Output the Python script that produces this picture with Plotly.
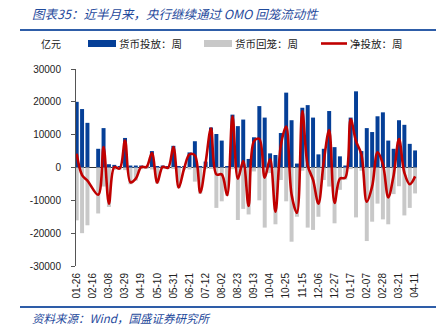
import plotly.graph_objects as go
import pandas as pd

# ---- data (亿元, weekly) ----
weeks = list(pd.date_range("2020-01-26", periods=64, freq="7D").strftime("%m-%d"))

injection = [20000, 17800, 13600, None, 5700, 12000, 1000, 800, 300, 9000,
             600, 600, 600, 400, 5000, 300, 600, 300, 6600, 200,
             300, 4600, 8000, 400, 1800, 12200, 10200, 8200, 200, 16100,
             12600, 14600, 2600, 9200, 18700, 15200, 4300, 3800, 10500, 22800,
             14400, 1200, 18200, 19000, 15200, 4000, 5700, 17200, 6200, 3400,
             600, 15200, 23200, 5000, 12000, 10800, 15600, 16800, 8200, 5700,
             14400, 13000, 7200, 5200]

withdrawal = [-16100, -20000, -17600, None, -14000, -5800, -12000, -700, -600, -800,
              -5100, -4000, -500, -200, -600, -4900, -400, -400, -400, -6300,
              -600, -600, -4300, -8000, -300, -300, -12300, -10300, -8600, -500,
              -16000, -12600, -14300, -1200, -10000, -18300, -1700, -17300, -3800, -10300,
              -22600, -15000, -1000, -18300, -19000, -15000, -3800, -5800, -17000, -6800,
              -3700, -500, -15200, -1000, -22400, -16500, -11000, -15800, -17300, -8100,
              -5700, -14600, -12300, -7900]

net = [4200, -2300, -4000, None, -8300, 6200, -11000, 100, -300, 8200,
       -4500, -3400, 100, 200, 4400, -4600, 200, -100, 6200, -6100,
       -300, 4000, 3700, -7600, 1500, 11900, -2100, -2100, -8400, 15600,
       -3400, 2000, -11700, 8000, 8700, -3100, 2600, -13500, 6700, 12500,
       -8200, -13800, 17200, 700, -3800, -11000, 1900, 11400, -10800, -3400,
       -3100, 14700, 8000, 4000, -10400, -5700, 4600, 1000, -9100, -2400,
       8700, -1600, -5100, -2700]

y_ticks = [-30000, -20000, -10000, 0, 10000, 20000, 30000]

title_text = "图表35：近半月来，央行继续通过 OMO 回笼流动性"
source_text = "资料来源：Wind，国盛证券研究所"
unit_text = "亿元"
legend_names = ["货币投放：周", "货币回笼：周", "净投放：周"]

BLUE = "#053F97"
GRAY = "#C8C8C8"
RED = "#C00000"
TBLUE = "#1F4A9C"

W, H = 448, 329
L, R, T, B = 76, 31, 69, 63
PW, PH = W - L - R, H - T - B


def px(x):
    return (x - L) / PW


def py(y):
    return (H - B - y) / PH


xs = list(range(len(weeks)))
fig = go.Figure()
fig.add_trace(go.Bar(x=xs, y=injection, marker_color=BLUE, width=0.74,
                     marker_line_width=0, name=legend_names[0], showlegend=False))
fig.add_trace(go.Bar(x=xs, y=withdrawal, marker_color=GRAY, width=0.74,
                     marker_line_width=0, name=legend_names[1], showlegend=False))
fig.add_trace(go.Scatter(x=xs, y=net, mode="lines", connectgaps=True,
                         line=dict(color=RED, width=2.6, shape="spline", smoothing=1.0),
                         name=legend_names[2], showlegend=False))

tick_idx = xs[::3]
fig.update_xaxes(range=[-0.13, 63.35], tickvals=tick_idx,
                 ticktext=[weeks[i] for i in tick_idx], tickangle=-90,
                 tickfont=dict(family="Liberation Sans, Arial", size=10, color="#222"),
                 showgrid=False, showline=False, zeroline=False, ticks="",
                 ticklabelstandoff=4)
fig.update_yaxes(range=[-30000, 30000], tickvals=y_ticks,
                 ticktext=[str(v) for v in y_ticks],
                 tickfont=dict(family="Liberation Sans, Arial", size=10, color="#222"),
                 showgrid=False, showline=True, linecolor="#555", linewidth=1,
                 ticks="outside", ticklen=4, tickcolor="#555",
                 zeroline=True, zerolinecolor="#333", zerolinewidth=1,
                 ticklabelstandoff=8)

shapes = [
    dict(type="line", xref="paper", yref="paper", x0=px(20), x1=px(436),
         y0=py(30), y1=py(30), line=dict(color="#2E5DA8", width=2)),
    dict(type="line", xref="paper", yref="paper", x0=px(20), x1=px(436),
         y0=py(307), y1=py(307), line=dict(color="#2E5DA8", width=2)),
    dict(type="rect", xref="paper", yref="paper", x0=px(88), x1=px(116),
         y0=py(47), y1=py(40), fillcolor=BLUE, line=dict(width=0)),
    dict(type="rect", xref="paper", yref="paper", x0=px(204), x1=px(232),
         y0=py(47), y1=py(40), fillcolor=GRAY, line=dict(width=0)),
    dict(type="line", xref="paper", yref="paper", x0=px(321), x1=px(347),
         y0=py(43.5), y1=py(43.5), line=dict(color=RED, width=2.6)),
]

cjk = "Noto Sans CJK SC"
annotations = [
    dict(text="<i>" + title_text + "</i>", x=px(30), y=py(14), xanchor="left",
         yanchor="middle", font=dict(family=cjk, size=12.5, color=TBLUE)),
    dict(text="<i>" + source_text + "</i>", x=px(30), y=py(318), xanchor="left",
         yanchor="middle", font=dict(family=cjk, size=11.5, color=TBLUE)),
    dict(text=unit_text, x=px(39), y=py(43.5), xanchor="left", yanchor="middle",
         font=dict(family=cjk, size=10, color="#222")),
    dict(text=legend_names[0], x=px(117), y=py(43.5), xanchor="left", yanchor="middle",
         font=dict(family=cjk, size=10.5, color="#222")),
    dict(text=legend_names[1], x=px(233), y=py(43.5), xanchor="left", yanchor="middle",
         font=dict(family=cjk, size=10.5, color="#222")),
    dict(text=legend_names[2], x=px(348), y=py(43.5), xanchor="left", yanchor="middle",
         font=dict(family=cjk, size=10.5, color="#222")),
]
for a in annotations:
    a.update(xref="paper", yref="paper", showarrow=False)

fig.update_layout(width=W, height=H, margin=dict(l=L, r=R, t=T, b=B),
                  barmode="overlay", plot_bgcolor="white", paper_bgcolor="white",
                  shapes=shapes, annotations=annotations, showlegend=False)

fig.write_html("out.html")
